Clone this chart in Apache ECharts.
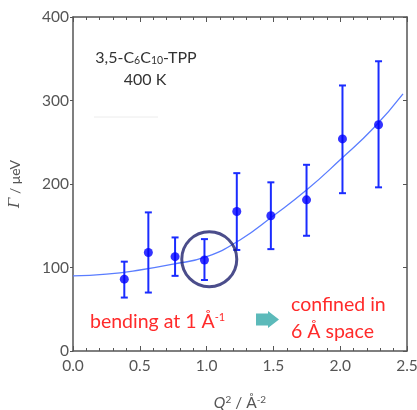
<!DOCTYPE html>
<html><head><meta charset="utf-8">
<script src="https://cdn.jsdelivr.net/npm/echarts@6/dist/echarts.min.js"></script>
<style>html,body{margin:0;padding:0;background:#fff}#c{width:417px;height:410px}</style>
</head><body><div id="c"></div>
<script>
// measured data (Q^2 in Å^-2, Γ in μeV)
const q2 = [0.384, 0.564, 0.764, 0.984, 1.226, 1.481, 1.748, 2.017, 2.287];
const gamma = [86, 118, 113, 109, 167, 162, 181, 254, 271];
const gammaLow = [64, 70, 90, 85, 121, 122, 138, 189, 196];
const gammaHigh = [107, 166, 136, 134, 213, 202, 223, 318, 347];
// fitted curve
const fitQ2 = [0, 0.25, 0.5, 0.75, 1.0, 1.25, 1.5, 1.75, 2.0, 2.25, 2.47];
const fitGamma = [90, 92, 97, 104, 113, 133, 162, 193, 229, 267, 308];
// highlighted point (circled)
const circleQ2 = [1.02];
const circleGamma = [110];

const FONT = 'Lato, "Open Sans", sans-serif';
const AX = '#555';
const chart = echarts.init(document.getElementById('c'), null, {renderer: 'canvas'});

const errData = q2.map((x, i) => [x, gammaLow[i], gammaHigh[i]]);
const ptData = q2.map((x, i) => [x, gamma[i]]);
const fitData = fitQ2.map((x, i) => [x, fitGamma[i]]);
const circData = circleQ2.map((x, i) => [x, circleGamma[i]]);

const option = {
  animation: false,
  backgroundColor: '#fff',
  grid: {left: 73, right: 10, top: 17, bottom: 59, containLabel: false, outerBoundsMode: 'none'},
  xAxis: [{
    type: 'value', min: 0, max: 2.5, interval: 0.5, position: 'bottom',
    axisLine: {show: true, onZero: false, lineStyle: {color: AX, width: 1.5}},
    axisTick: {inside: true, length: 5, lineStyle: {color: AX, width: 1}},
    minorTick: {show: true, splitNumber: 5, length: 3, lineStyle: {color: AX, width: 1}},
    splitLine: {show: false},
    axisLabel: {color: AX, fontSize: 15.5, fontFamily: FONT, margin: 7, formatter: v => v.toFixed(1)},
    name: '{i|Q}{s|2}{n| / Å}{s|-2}', nameLocation: 'middle', nameGap: 44,
    nameTextStyle: {color: AX, fontFamily: FONT, fontSize: 15, rich: {
      i: {fontStyle: 'italic', fontSize: 15.5, color: AX, fontFamily: FONT},
      n: {fontSize: 15.5, color: AX, fontFamily: FONT},
      s: {fontSize: 10, color: AX, fontFamily: FONT, verticalAlign: 'top', lineHeight: 10}
    }}
  }, {
    type: 'value', min: 0, max: 2.5, interval: 0.5, position: 'top',
    axisLine: {show: true, onZero: false, lineStyle: {color: AX, width: 1.5}},
    axisTick: {inside: true, length: 5, lineStyle: {color: AX, width: 1}},
    minorTick: {show: true, splitNumber: 5, length: 3, lineStyle: {color: AX, width: 1}},
    splitLine: {show: false}, axisLabel: {show: false}
  }],
  yAxis: [{
    type: 'value', min: 0, max: 400, interval: 100, position: 'left',
    axisLine: {show: true, onZero: false, lineStyle: {color: AX, width: 1.5}},
    axisTick: {show: true, inside: false, length: 3, lineStyle: {color: AX, width: 1}},
    splitLine: {show: false},
    axisLabel: {color: AX, fontSize: 15.5, fontFamily: FONT, margin: 4},
    name: '{i|Γ}{n| / μeV}', nameLocation: 'middle', nameGap: 50, nameRotate: 90,
    nameTextStyle: {color: AX, fontFamily: FONT, fontSize: 14, rich: {
      i: {fontStyle: 'italic', fontFamily: '"DejaVu Serif", serif', fontSize: 15, color: AX},
      n: {fontSize: 14, color: AX, fontFamily: FONT}
    }}
  }, {
    type: 'value', min: 0, max: 400, interval: 100, position: 'right',
    axisLine: {show: true, onZero: false, lineStyle: {color: AX, width: 1.5}},
    axisTick: {show: true, inside: true, length: 4, lineStyle: {color: AX, width: 1}},
    splitLine: {show: false}, axisLabel: {show: false}
  }],
  series: [{
    type: 'line', data: fitData, smooth: true, symbol: 'none',
    lineStyle: {color: '#5a7dff', width: 1.3}, z: 2
  }, {
    type: 'custom', data: errData, z: 3,
    renderItem: function (params, api) {
      const x = api.value(0);
      const lo = api.coord([x, api.value(1)]);
      const hi = api.coord([x, api.value(2)]);
      const cw = 3.5;
      const st = {stroke: '#1a2cff', lineWidth: 2};
      return {type: 'group', children: [
        {type: 'line', shape: {x1: lo[0], y1: lo[1], x2: hi[0], y2: hi[1]}, style: st},
        {type: 'line', shape: {x1: lo[0] - cw, y1: lo[1], x2: lo[0] + cw, y2: lo[1]}, style: st},
        {type: 'line', shape: {x1: hi[0] - cw, y1: hi[1], x2: hi[0] + cw, y2: hi[1]}, style: st}
      ]};
    }
  }, {
    type: 'scatter', data: ptData, symbol: 'circle', symbolSize: 9,
    itemStyle: {color: '#0000ff'}, z: 4
  }, {
    type: 'scatter', data: circData, symbol: 'circle', symbolSize: 55,
    itemStyle: {color: 'rgba(0,0,0,0)', borderColor: '#1e206e', borderWidth: 3}, z: 5
  }],
  graphic: [
    {type: 'text', x: 146, y: 58, style: {
      text: '{a|3,5-C}{b|6}{a|C}{b|10}{a|-TPP}', align: 'center', verticalAlign: 'middle',
      rich: {a: {fontSize: 16, fontFamily: FONT, fill: '#333'},
             b: {fontSize: 10.5, fontFamily: FONT, fill: '#333', verticalAlign: 'bottom', padding: [6, 0, 0, 0]}}
    }},
    {type: 'text', x: 145, y: 80, style: {text: '400 K', fontSize: 16, fontFamily: FONT, fill: '#333', align: 'center', verticalAlign: 'middle'}},
    {type: 'line', shape: {x1: 94, y1: 117, x2: 158, y2: 117}, style: {stroke: '#ececec', lineWidth: 1}},
    {type: 'text', x: 90, y: 322, style: {
      text: '{a|bending at 1 Å}{s|-1}', verticalAlign: 'middle',
      rich: {a: {fontSize: 19.5, fontFamily: FONT, fill: '#ff2a2a'},
             s: {fontSize: 11, fontFamily: FONT, fill: '#ff2a2a', verticalAlign: 'top', lineHeight: 12}}
    }},
    {type: 'polygon', x: 256, y: 311, shape: {points: [[0, 2.5], [12, 2.5], [12, 0], [23, 8.5], [12, 17], [12, 14.5], [0, 14.5]]},
      style: {fill: '#5cbaba'}},
    {type: 'text', x: 291, y: 305, style: {text: 'confined in', fontSize: 19.5, fontFamily: FONT, fill: '#ff2a2a', verticalAlign: 'middle'}},
    {type: 'text', x: 291, y: 332, style: {text: '6 Å space', fontSize: 19.5, fontFamily: FONT, fill: '#ff2a2a', verticalAlign: 'middle'}}
  ]
};
chart.setOption(option);
</script>
</body></html>
